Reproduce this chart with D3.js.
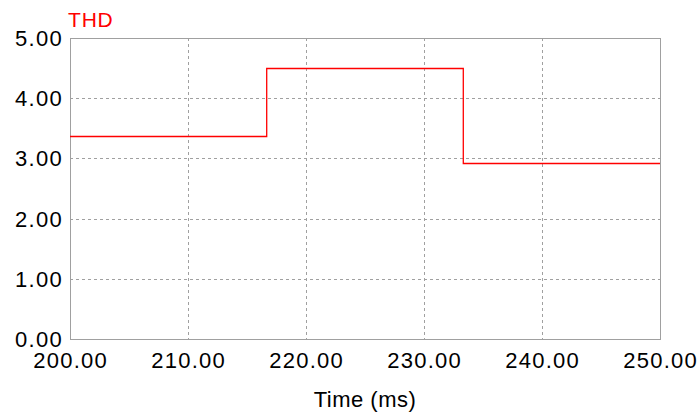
<!DOCTYPE html>
<html><head><meta charset="utf-8">
<script src="https://cdn.jsdelivr.net/npm/d3@7/dist/d3.min.js"></script>
<style>body{margin:0;background:#fff}svg{display:block}text{font-family:"Liberation Sans",Arial,sans-serif}</style>
</head><body><svg id="c" width="700" height="413"></svg>
<script>
const seriesName = "THD";
const xTicks = [200, 210, 220, 230, 240, 250];
const yTicks = [0, 1, 2, 3, 4, 5];
const stepTimes = [200, 216.67, 233.33, 250];
const stepValues = [3.37, 4.50, 2.92];
const xTitle = "Time (ms)";

const svg = d3.select("#c");
const L = 70, R = 660, T = 38, B = 339;
const x = d3.scaleLinear().domain([200, 250]).range([L, R]);
const y = d3.scaleLinear().domain([0, 5]).range([B, T]);

// grid
const g = svg.append("g");
g.selectAll("line.vx").data(xTicks.slice(1, -1)).join("line")
  .attr("x1", d => Math.round(x(d)) + 0.5).attr("x2", d => Math.round(x(d)) + 0.5)
  .attr("y1", T).attr("y2", B)
  .attr("stroke", "#a0a0a0").attr("stroke-dasharray", "3,3");
g.selectAll("line.hy").data(yTicks.slice(1, -1)).join("line")
  .attr("y1", d => Math.round(y(d)) + 0.5).attr("y2", d => Math.round(y(d)) + 0.5)
  .attr("x1", L).attr("x2", R)
  .attr("stroke", "#a0a0a0").attr("stroke-dasharray", "3,3");

// frame
svg.append("rect").attr("x", L + 0.5).attr("y", T + 0.5).attr("width", R - L).attr("height", B - T)
  .attr("fill", "none").attr("stroke", "#a0a0a0");

// step line
const pts = [];
stepValues.forEach((v, i) => { pts.push([stepTimes[i], v]); pts.push([stepTimes[i + 1], v]); });
svg.append("path").datum(pts)
  .attr("d", d3.line().x(d => x(d[0])).y(d => Math.round(y(d[1])) + 0.5))
  .attr("fill", "none").attr("stroke", "#ff0000").attr("stroke-width", 1.3);

// y labels
svg.selectAll("text.yl").data(yTicks).join("text")
  .attr("x", L - 7).attr("y", d => y(d) + 8)
  .attr("text-anchor", "end").attr("font-size", 22).attr("letter-spacing", 1.3)
  .attr("fill", "#000")
  .text(d => d3.format(".2f")(d));

// x labels
svg.selectAll("text.xl").data(xTicks).join("text")
  .attr("x", d => x(d) + 0.6).attr("y", 368)
  .attr("text-anchor", "middle").attr("font-size", 22).attr("letter-spacing", 1.2)
  .attr("fill", "#000")
  .text(d => d3.format(".2f")(d));

svg.append("text").attr("x", (L + R) / 2).attr("y", 407)
  .attr("text-anchor", "middle").attr("font-size", 22).attr("letter-spacing", 0.5)
  .attr("fill", "#000").text(xTitle);

svg.append("text").attr("x", 68).attr("y", 27)
  .attr("font-size", 21).attr("letter-spacing", 0.8)
  .attr("fill", "#ff0000").text(seriesName);
</script></body></html>
